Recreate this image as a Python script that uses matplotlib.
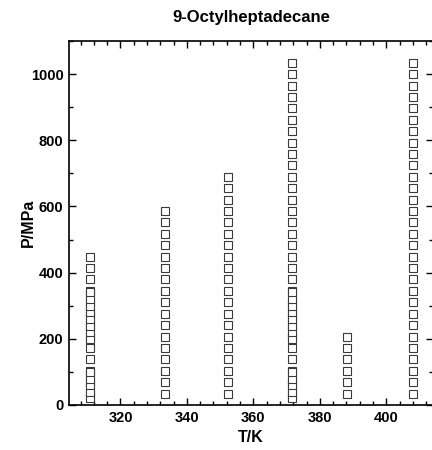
import numpy as np
import matplotlib.pyplot as plt
from matplotlib.ticker import MultipleLocator

plt.rcParams['font.family'] = ['Liberation Sans', 'DejaVu Sans']
plt.rcParams['font.weight'] = 'bold'

# isotherm temperatures (K)
temps = [310.9, 333.3, 352.4, 371.6, 388.1, 408.0]
# highest pressure step (in 5000 psi units) reached on each isotherm
top_steps = [13, 17, 20, 30, 6, 30]
# additional low/intermediate pressure points (MPa) on the 311 K and 372 K isotherms
extra_T = [310.9, 371.6]
extra_P = [20, 40, 60, 80, 100, 200, 220, 240, 260, 280, 300, 320, 340]

psi_step = 34.474  # 5000 psi in MPa

T_all, P_all = [], []
for T, n in zip(temps, top_steps):
    p = psi_step * np.arange(1, n + 1)
    T_all += [T] * len(p)
    P_all += list(p)
for T in extra_T:
    T_all += [T] * len(extra_P)
    P_all += extra_P

fig = plt.figure(figsize=(4.32, 4.5), dpi=100)
ax = fig.add_axes([0.1597, 0.1, 0.842, 0.809])

ax.plot(T_all, P_all, linestyle='none', marker='s', markersize=5.5,
        markerfacecolor='white', markeredgecolor='#3a3a3a', markeredgewidth=0.8)

ax.set_xlim(304.5, 414.0)
ax.set_ylim(0, 1100)
ax.xaxis.set_major_locator(MultipleLocator(20))
ax.xaxis.set_minor_locator(MultipleLocator(4))
ax.yaxis.set_major_locator(MultipleLocator(200))
ax.yaxis.set_minor_locator(MultipleLocator(100))
ax.tick_params(which='both', direction='in', top=True, right=True,
               labelsize=10.5, width=1, pad=4)
ax.tick_params(which='major', length=5)
ax.tick_params(which='minor', length=3)
for lbl in ax.get_xticklabels() + ax.get_yticklabels():
    lbl.set_fontweight('bold')
for s in ax.spines.values():
    s.set_linewidth(1.2)

ax.set_xlabel('T/K', fontsize=11.5, fontweight='bold')
ax.set_ylabel('P/MPa', fontsize=11.5, fontweight='bold')
ax.xaxis.set_label_coords(0.5, -0.088, transform=ax.transAxes)
ax.yaxis.set_label_coords(-0.113, 0.5, transform=ax.transAxes)
ax.xaxis.label.set_va('center')
ax.yaxis.label.set_va('center')
ax.set_title('9-Octylheptadecane', fontsize=12, fontweight='bold',
             y=1.065, va='center', pad=0)

fig.savefig('out.png', dpi=100)
